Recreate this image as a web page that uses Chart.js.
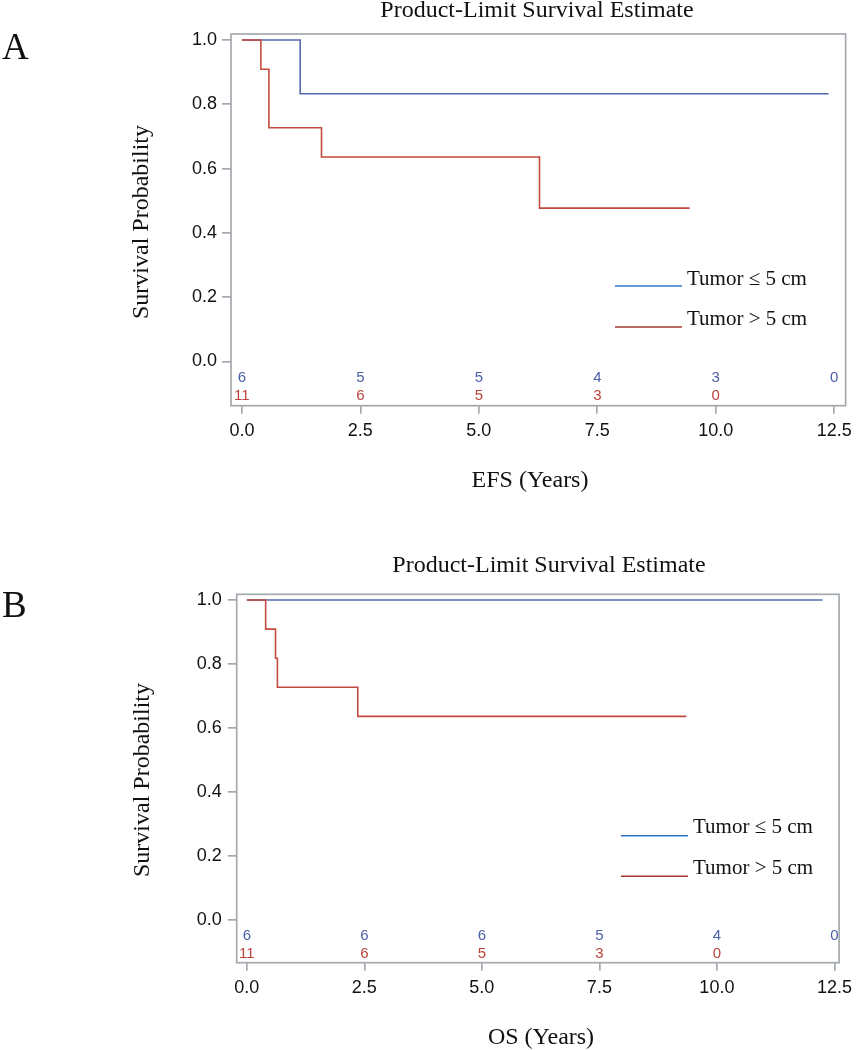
<!DOCTYPE html>
<html>
<head>
<meta charset="utf-8">
<title>Product-Limit Survival Estimate</title>
<script src="https://cdn.jsdelivr.net/npm/chart.js@4.4.1/dist/chart.umd.min.js"></script>
<style>
  html, body { margin:0; padding:0; background:#fff; }
  #wrap { position:relative; width:859px; height:1050px; }
  #wrap canvas { position:absolute; left:0; }
  #chart-efs { top:0; }
  #chart-os { top:525px; }
</style>
</head>
<body>
<div id="wrap">
  <canvas id="chart-efs" width="859" height="525"></canvas>
  <canvas id="chart-os" width="859" height="525"></canvas>
</div>
<script>
// axis ticks
const xTicks = [0, 2.5, 5, 7.5, 10, 12.5];
const yTicks = [0, 0.2, 0.4, 0.6, 0.8, 1.0];
const seriesNames = ['Tumor \u2264 5 cm', 'Tumor > 5 cm'];

// A: event-free survival (time in years, KM estimate after each step)
const efsTimeSmall = [0, 1.23, 12.38];
const efsSurvSmall = [1, 0.833, 0.833];
const efsTimeLarge = [0, 0.40, 0.57, 1.68, 6.28, 9.45];
const efsSurvLarge = [1, 0.909, 0.727, 0.636, 0.477, 0.477];
const efsRiskSmall = [6, 5, 5, 4, 3, 0];
const efsRiskLarge = [11, 6, 5, 3, 0];

// B: overall survival
const osTimeSmall = [0, 12.25];
const osSurvSmall = [1, 1];
const osTimeLarge = [0, 0.40, 0.61, 0.65, 2.36, 9.35];
const osSurvLarge = [1, 0.909, 0.818, 0.727, 0.636, 0.636];
const osRiskSmall = [6, 6, 6, 5, 4, 0];
const osRiskLarge = [11, 6, 5, 3, 0];

(function(){
  const SERIF = '"Liberation Serif", "Times New Roman", serif';
  const SANS = '"Liberation Sans", Arial, sans-serif';
  const FRAME = '#a5aaaf';
  const BLUE = '#5569ad', RED = '#c24a3e';
  const BLUE_TXT = '#4b5fa8', RED_TXT = '#b9433a';
  const BLUE_LEG = '#2f73c9', RED_LEG = '#a8372c';

  function qs(sel){ return document.querySelector(sel); }
  function pts(ts, ss){ return ts.map((t,i)=>({ x: t, y: ss[i] })); }

  const decor = {
    id: 'kmDecor',
    afterDraw(chart){
      const o = chart.options.plugins.kmDecor;
      const ctx = chart.ctx, a = chart.chartArea, xs = chart.scales.x, ys = chart.scales.y;
      ctx.save();
      // plot frame
      ctx.strokeStyle = FRAME; ctx.lineWidth = 1.7;
      ctx.strokeRect(a.left, a.top, a.right - a.left, a.bottom - a.top);

      // numbers at risk
      ctx.font = '15px ' + SANS; ctx.textAlign = 'center'; ctx.textBaseline = 'middle';
      ctx.fillStyle = BLUE_TXT;
      o.riskSmall.forEach((n,i)=> ctx.fillText(String(n), xs.getPixelForValue(xTicks[i]), ys.getPixelForValue(o.riskRows[0])));
      ctx.fillStyle = RED_TXT;
      o.riskLarge.forEach((n,i)=> ctx.fillText(String(n), xs.getPixelForValue(xTicks[i]), ys.getPixelForValue(o.riskRows[1])));

      // titles
      ctx.fillStyle = '#111'; ctx.textBaseline = 'alphabetic';
      ctx.font = '24px ' + SERIF; ctx.textAlign = 'center';
      ctx.fillText('Product-Limit Survival Estimate', o.titleX, o.titleY);
      ctx.fillText(o.xTitle, o.xTitleX, o.xTitleY);
      ctx.save();
      ctx.translate(o.yTitleX, o.yTitleY); ctx.rotate(-Math.PI/2);
      ctx.fillText('Survival Probability', 0, 0);
      ctx.restore();
      ctx.font = '37px ' + SERIF; ctx.textAlign = 'left';
      ctx.fillText(o.letter, 2, o.letterY);

      // legend
      const lg = o.legend;
      [BLUE_LEG, RED_LEG].forEach((c,i)=>{
        ctx.strokeStyle = c; ctx.lineWidth = 1.6;
        ctx.beginPath(); ctx.moveTo(lg.x0, lg.lineY[i]); ctx.lineTo(lg.x1, lg.lineY[i]); ctx.stroke();
        ctx.fillStyle = '#111'; ctx.font = '21px ' + SERIF; ctx.textAlign = 'left';
        ctx.fillText(seriesNames[i], lg.textX, lg.textY[i]);
      });
      ctx.restore();
    }
  };

  function panel(sel, o){
    return new Chart(qs(sel), {
      type: 'line',
      data: { datasets: [
        { label: seriesNames[1], data: pts(o.timeLarge, o.survLarge), borderColor: RED, order: 0 },
        { label: seriesNames[0], data: pts(o.timeSmall, o.survSmall), borderColor: BLUE, order: 1 }
      ].map(d => Object.assign(d, { stepped: true, pointRadius: 0, borderWidth: 1.6, fill: false })) },
      options: {
        responsive: false, animation: false, events: [],
        layout: { padding: { left: 0, top: o.padTop, right: o.padRight, bottom: 0 } },
        plugins: { legend: { display: false }, tooltip: { enabled: false }, kmDecor: o },
        scales: {
          x: {
            type: 'linear', min: o.xMin, max: o.xMax,
            afterBuildTicks: s => { s.ticks = xTicks.map(v=>({ value: v })); },
            afterFit: s => { s.height = o.xAxisH; },
            ticks: { autoSkip: false, maxRotation: 0, padding: 7, color: '#111', font: { family: SANS, size: 18 }, callback: v => Number(v).toFixed(1) },
            grid: { drawOnChartArea: false, drawTicks: true, tickLength: 8, color: FRAME, lineWidth: 1.7 },
            border: { display: false }
          },
          y: {
            type: 'linear', min: o.yMin, max: o.yMax,
            afterBuildTicks: s => { s.ticks = yTicks.map(v=>({ value: v })); },
            afterFit: s => { s.width = o.yAxisW; },
            ticks: { autoSkip: false, padding: o.yPad, color: '#111', font: { family: SANS, size: 18 }, callback: v => Number(v).toFixed(1) },
            grid: { drawOnChartArea: false, drawTicks: true, tickLength: 9, color: FRAME, lineWidth: 1.7 },
            border: { display: false }
          }
        }
      },
      plugins: [decor]
    });
  }

  panel('#chart-efs', {
    timeSmall: efsTimeSmall, survSmall: efsSurvSmall, timeLarge: efsTimeLarge, survLarge: efsSurvLarge,
    riskSmall: efsRiskSmall, riskLarge: efsRiskLarge, riskRows: [-0.052, -0.107],
    xMin: -0.23, xMax: 12.74, yMin: -0.1375, yMax: 1.0187,
    padTop: 34, padRight: 12, yAxisW: 231, xAxisH: 119.3, yPad: 5,
    letter: 'A', letterY: 59, titleX: 537, titleY: 17,
    xTitle: 'EFS (Years)', xTitleX: 530, xTitleY: 487, yTitleX: 148, yTitleY: 222,
    legend: { x0: 615, x1: 682, lineY: [286, 327], textX: 687, textY: [285, 324.5] }
  });

  panel('#chart-os', {
    timeSmall: osTimeSmall, survSmall: osSurvSmall, timeLarge: osTimeLarge, survLarge: osSurvLarge,
    riskSmall: osRiskSmall, riskLarge: osRiskLarge, riskRows: [-0.051, -0.108],
    xMin: -0.216, xMax: 12.6, yMin: -0.135, yMax: 1.018,
    padTop: 69.3, padRight: 10.7, yAxisW: 236.7, xAxisH: 87.3, yPad: 6,
    letter: 'B', letterY: 92, titleX: 549, titleY: 47,
    xTitle: 'OS (Years)', xTitleX: 541, xTitleY: 518.5, yTitleX: 149, yTitleY: 255,
    legend: { x0: 621, x1: 688, lineY: [310.7, 351.3], textX: 693, textY: [308.3, 349] }
  });
})();
</script>
</body>
</html>
